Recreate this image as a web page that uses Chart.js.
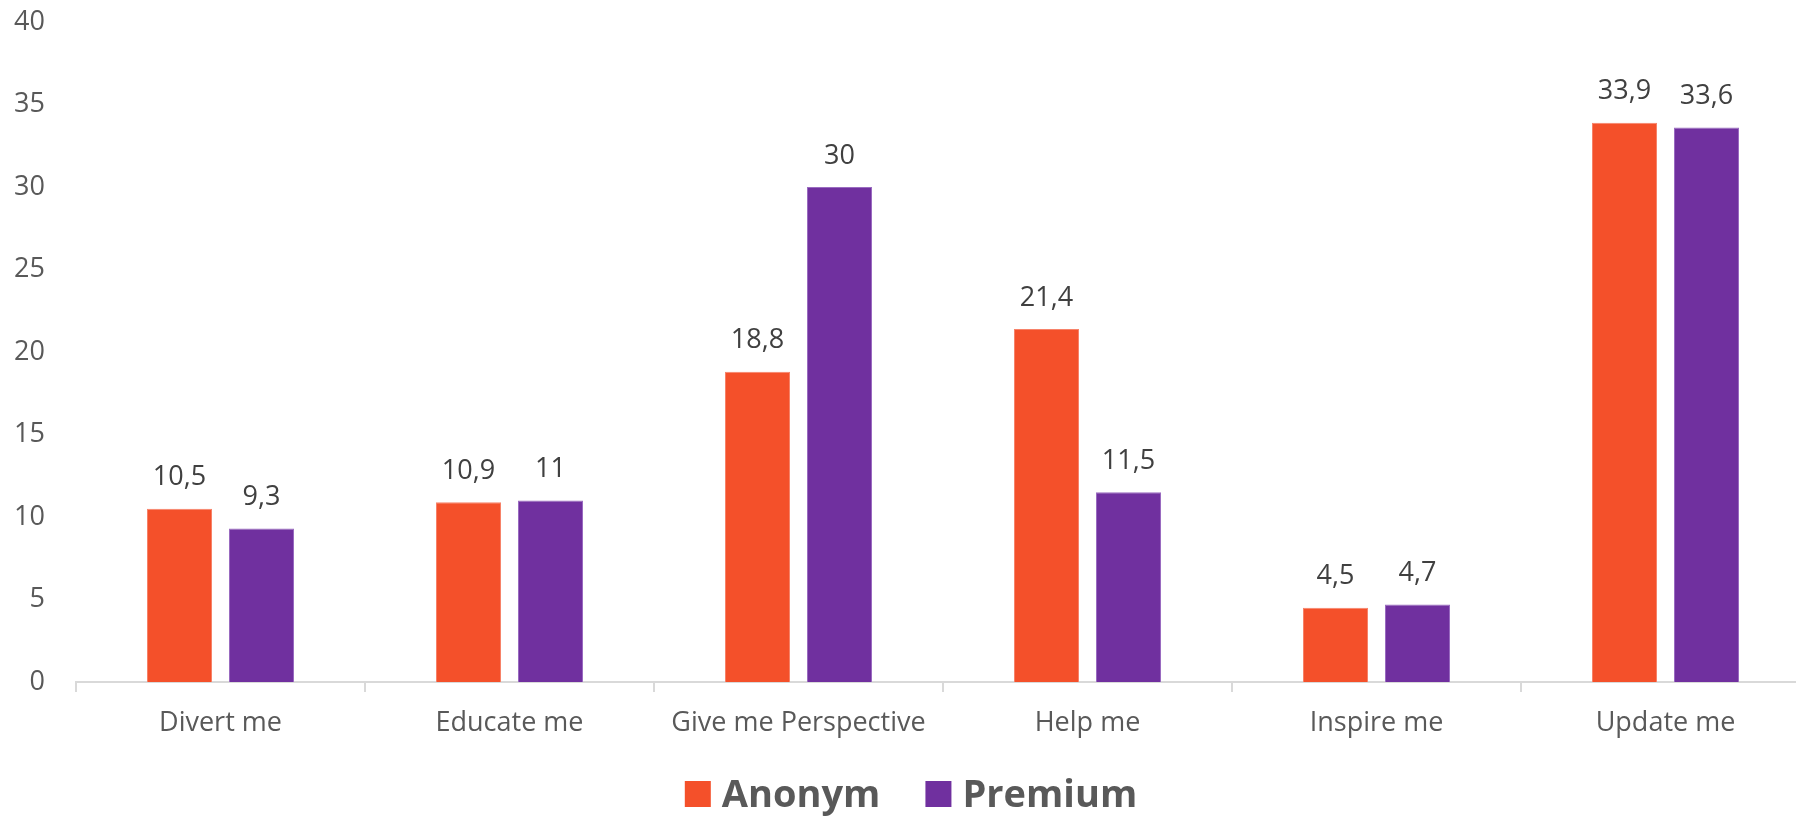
<!DOCTYPE html>
<html>
<head>
<meta charset="utf-8">
<script src="https://cdn.jsdelivr.net/npm/chart.js@4.4.1/dist/chart.umd.min.js"></script>
<style>
    html, body { margin: 0; padding: 0; background: #fff; overflow: hidden; }
    #wrap { width: 1810px; height: 818px; }
</style>
</head>
<body>
<div id="wrap"><canvas id="motivesChart"></canvas></div>
<script>
const categories = ['Divert me', 'Educate me', 'Give me Perspective', 'Help me', 'Inspire me', 'Update me'];
const anonymValues = [10.5, 10.9, 18.8, 21.4, 4.5, 33.9];
const premiumValues = [9.3, 11, 30, 11.5, 4.7, 33.6];
const seriesNames = ['Anonym', 'Premium'];
const seriesColors = ['#F4502A', '#70309F'];
const yTicks = [0, 5, 10, 15, 20, 25, 30, 35, 40];

const FONT = '"Open Sans", "Noto Sans", sans-serif';

// Writes the value above every bar, with a decimal comma
const barValueLabels = {
    id: 'barValueLabels',
    afterDatasetsDraw(chart) {
        const ctx = chart.ctx;
        ctx.save();
        ctx.font = '27px ' + FONT;
        ctx.fillStyle = '#404040';
        ctx.textAlign = 'center';
        ctx.textBaseline = 'middle';
        chart.data.datasets.forEach((ds, i) => {
            const meta = chart.getDatasetMeta(i);
            meta.data.forEach((bar, j) => {
                const text = String(ds.data[j]).replace('.', ',');
                ctx.fillText(text, bar.x, bar.y - 31);
            });
        });
        ctx.restore();
    }
};

// Legend drawn by hand so the square/text spacing can be set freely
const bottomLegend = {
    id: 'bottomLegend',
    afterDraw(chart) {
        const ctx = chart.ctx;
        const box = 26, textGap = 11, itemGap = 45;
        const cy = chart.height - 24;
        ctx.save();
        ctx.font = 'bold 38px ' + FONT;
        ctx.textBaseline = 'middle';
        ctx.textAlign = 'left';
        const items = chart.data.datasets.map(ds => ({
            text: ds.label,
            color: ds.backgroundColor,
            w: box + textGap + ctx.measureText(ds.label).width
        }));
        const total = items.reduce((s, it) => s + it.w, 0) + itemGap * (items.length - 1);
        let x = chart.width / 2 + 6 - total / 2;
        items.forEach(it => {
            ctx.fillStyle = it.color;
            ctx.fillRect(x, cy - box / 2, box, box);
            ctx.fillStyle = '#595959';
            ctx.fillText(it.text, x + box + textGap, cy + 2);
            x += it.w + itemGap;
        });
        ctx.restore();
    }
};

const ctx = document.getElementById('motivesChart').getContext('2d');
new Chart(ctx, {
    type: 'bar',
    data: {
        labels: categories,
        datasets: [{
            label: seriesNames[0],
            data: anonymValues,
            backgroundColor: seriesColors[0],
            borderColor: '#F7836A',
            borderWidth: 1,
            borderSkipped: 'bottom'
        }, {
            label: seriesNames[1],
            data: premiumValues,
            backgroundColor: seriesColors[1],
            borderColor: '#9A6CC0',
            borderWidth: 1,
            borderSkipped: 'bottom'
        }]
    },
    options: {
        responsive: true,
        maintainAspectRatio: false,
        animation: false,
        categoryPercentage: 0.5675,
        barPercentage: 0.793,
        layout: {
            padding: { top: 22, right: 0, left: 0, bottom: 66 }
        },
        scales: {
            x: {
                afterFit(scale) {
                    scale.height = 70;
                },
                grid: {
                    display: true,
                    drawOnChartArea: false,
                    drawTicks: true,
                    tickLength: 10,
                    offset: true,
                    color: '#d9d9d9',
                    lineWidth: 2
                },
                border: { display: true, color: '#d9d9d9', width: 2 },
                ticks: {
                    color: '#595959',
                    font: { family: FONT, size: 27 },
                    padding: 15,
                    maxRotation: 0,
                    autoSkip: false
                }
            },
            y: {
                min: 0,
                max: 40,
                afterBuildTicks(scale) {
                    scale.ticks = yTicks.map(v => ({ value: v }));
                },
                afterFit(scale) {
                    scale.width = 76;
                    scale.paddingTop = 0;
                    scale.paddingBottom = 0;
                },
                grid: { display: false, drawTicks: false },
                border: { display: false },
                ticks: {
                    color: '#595959',
                    font: { family: FONT, size: 27 },
                    padding: 31
                }
            }
        },
        plugins: {
            legend: { display: false },
            tooltip: { enabled: false }
        }
    },
    plugins: [barValueLabels, bottomLegend]
});
</script>
</body>
</html>
